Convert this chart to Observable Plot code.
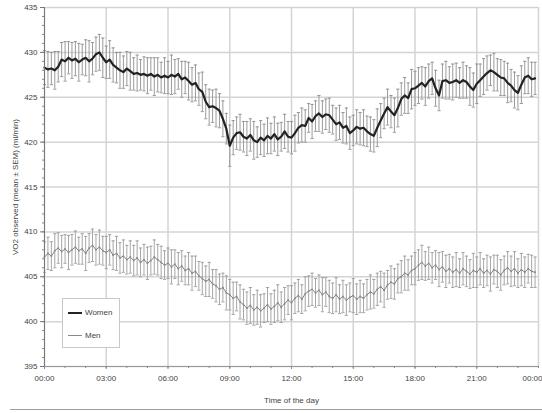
<!DOCTYPE html>
<html>
<head>
<meta charset="utf-8">
<script src="https://cdn.jsdelivr.net/npm/d3@7"></script>
<script src="https://cdn.jsdelivr.net/npm/@observablehq/plot@0.6"></script>
<style>
  body { margin: 0; background: #fff; font-family: "Liberation Sans", Arial, sans-serif; }
  #wrap { position: relative; width: 542px; height: 413px; }
  #legend { position: absolute; left: 62px; top: 298px; width: 56px; height: 48px; border: 1px solid #c8c8c8; background: #fff; font-size: 8px; color: #444; }
  .lg { position: absolute; left: 5px; display: flex; align-items: center; }
  .lg span.sw { display: inline-block; width: 14px; margin-right: 3px; }
  #rule { position: absolute; left: 10px; top: 409px; width: 532px; border-top: 1.5px solid #a0a0a0; }
</style>
</head>
<body>
<div id="wrap">
  <div id="chart"></div>
  <div id="legend">
    <div class="lg" style="top:9px"><span class="sw" style="border-top:2px solid #222"></span>Women</div>
    <div class="lg" style="top:32px"><span class="sw" style="border-top:1px solid #888"></span>Men</div>
  </div>
  <div id="rule"></div>
</div>
<script>
// time of day in minutes (10-minute steps)
const times = d3.range(0, 1440, 10);

const womenMean = [
428.3,428.1,428.2,428.0,428.4,429.2, 429.0,429.4,429.1,429.3,428.9,429.2,
429.4,429.0,429.3,429.8,430.0,429.4, 428.9,429.2,428.6,428.3,428.0,427.8,
428.2,427.9,427.6,427.7,427.5,427.6, 427.4,427.6,427.3,427.5,427.2,427.4,
427.2,427.5,427.3,427.6,427.0,427.2, 426.8,426.4,426.6,425.9,425.6,424.5,
423.9,424.0,423.8,423.5,422.6,421.5, 419.6,420.5,421.0,421.1,420.6,420.4,
420.8,420.2,420.0,420.5,420.2,420.7, 420.4,420.9,420.3,420.6,421.2,420.6,
420.5,421.0,421.6,421.9,421.8,422.7, 422.3,422.9,423.2,422.8,423.1,423.0,
422.5,422.0,422.2,421.6,421.8,421.0, 421.3,421.7,421.5,421.6,421.2,420.9,
420.7,421.6,422.4,423.2,423.9,423.4, 423.0,423.8,424.8,425.2,424.9,425.9,
426.0,426.3,426.6,426.2,426.8,427.1, 426.0,425.2,426.8,426.9,426.6,426.7,
426.9,426.6,426.9,426.7,426.2,425.8, 426.5,426.9,427.3,427.7,428.0,427.8,
427.5,427.2,427.1,426.6,426.3,425.8, 425.5,426.4,427.2,427.4,427.0,427.1
];
const womenSem = [
1.9,2.0,1.8,2.1,1.7,1.9,2.2,1.8,2.0,1.9,2.1,1.7,2.0,2.3,1.8,1.9,2.0,2.2,1.8,2.1,1.9,1.7,2.0,1.8,
1.9,2.1,1.8,2.0,1.7,1.9,2.0,1.8,2.1,1.9,1.7,2.0,1.8,2.2,1.9,1.7,2.0,1.8,2.1,1.9,2.0,1.8,2.2,1.9,
2.0,1.8,2.1,1.9,2.0,1.7,2.3,1.9,1.8,2.0,1.7,1.9,1.8,2.1,1.7,1.9,1.8,2.0,1.7,1.9,1.8,1.6,1.9,1.7,
1.8,2.0,1.7,1.9,1.8,1.6,1.9,1.7,2.0,1.8,1.7,1.9,1.6,1.8,1.9,1.7,2.0,1.8,1.7,1.9,1.8,2.0,1.7,1.9,
1.8,2.1,1.9,1.7,2.0,1.8,1.9,2.1,1.8,2.0,1.7,2.2,1.9,2.0,1.8,2.1,1.9,1.8,2.0,1.7,1.9,2.1,1.8,2.0,
1.9,1.7,2.0,1.8,2.1,1.9,2.2,1.8,2.0,1.9,1.7,2.1,1.8,2.0,1.9,2.2,1.8,2.0,1.9,2.1,1.8,2.0,1.9,1.8
];
const menMean = [
407.2,407.6,407.3,407.9,408.2,407.8, 408.1,407.7,408.0,408.3,407.9,408.1,
407.6,408.2,408.5,408.0,408.3,407.9, 407.7,408.0,407.4,407.6,407.1,407.3,
406.9,407.2,406.8,407.1,406.6,406.9, 406.5,406.8,407.2,406.9,406.6,406.3,
406.5,406.1,406.4,405.9,406.2,405.7, 405.9,405.4,405.6,405.1,404.8,404.5,
404.7,404.2,404.0,403.6,403.8,403.2, 403.0,402.6,402.8,402.2,401.9,401.5,
401.8,401.3,401.6,401.2,401.5,401.9, 401.4,401.7,402.1,401.6,402.0,402.4,
402.1,402.6,402.9,402.5,403.1,403.4, 403.6,403.2,403.5,403.0,403.3,402.8,
402.6,403.0,402.5,402.8,402.4,402.7, 402.9,402.5,402.8,402.6,403.0,403.3,
403.1,403.6,403.9,403.5,404.1,404.4, 404.2,404.8,405.0,405.4,405.2,405.7,
405.9,406.3,406.6,406.2,406.5,406.0, 406.3,405.8,406.1,405.6,405.9,405.5,
405.8,405.4,405.9,405.6,405.3,405.7, 405.5,405.9,405.4,405.7,405.3,405.8,
405.6,405.2,405.7,406.0,405.6,405.9, 405.4,405.8,405.5,405.9,405.6,405.5
];
const menSem = [
1.7,1.8,1.6,1.9,1.7,1.8,1.6,1.9,1.7,1.8,1.5,1.7,1.9,1.6,1.8,1.7,1.9,1.6,1.8,1.7,1.6,1.9,1.7,1.8,
1.6,1.8,1.7,1.9,1.6,1.7,1.8,1.6,1.9,1.7,1.8,1.6,1.7,1.9,1.6,1.8,1.7,1.6,1.8,1.9,1.7,1.6,1.8,1.7,
1.9,1.6,1.8,1.7,1.6,1.9,1.7,1.8,1.6,1.9,1.7,1.8,2.0,1.7,1.9,1.8,1.6,1.9,1.7,1.8,2.0,1.7,1.8,1.6,
1.9,1.7,1.8,1.6,1.9,1.7,1.8,1.6,1.7,1.9,1.6,1.8,1.7,1.9,1.6,1.8,1.7,1.6,1.9,1.7,1.8,1.6,1.7,1.9,
1.6,1.8,1.7,1.9,1.6,1.8,1.7,1.6,1.8,1.9,1.7,1.6,1.8,1.7,1.9,1.6,1.8,1.7,1.6,1.9,1.7,1.8,1.6,1.7,
1.9,1.6,1.8,1.7,1.6,1.9,1.7,1.8,1.6,1.7,1.9,1.6,1.8,1.7,1.6,1.8,1.7,1.9,1.6,1.8,1.7,1.6,1.8,1.7
];

const xTickValues = [0, 180, 360, 540, 720, 900, 1080, 1260, 1440];
const xTickLabels = ["00:00","03:00","06:00","09:00","12:00","15:00","18:00","21:00","00:00"];
const yTickValues = [395, 400, 405, 410, 415, 420, 425, 430, 435];

const women = times.map((t, i) => ({t, v: womenMean[i], e: womenSem[i]}));
const men = times.map((t, i) => ({t, v: menMean[i], e: menSem[i]}));

const hline = {
  draw(ctx, size) {
    const r = Math.sqrt(size / Math.PI);
    ctx.moveTo(-r, 0); ctx.lineTo(r, 0);
  }
};

function bars(data, color) {
  return [
    Plot.ruleX(data, {x: "t", y1: d => d.v - d.e, y2: d => d.v + d.e, stroke: color, strokeWidth: 0.9}),
    Plot.dot(data, {x: "t", y: d => d.v + d.e, symbol: hline, r: 1.6, stroke: color, strokeWidth: 0.9}),
    Plot.dot(data, {x: "t", y: d => d.v - d.e, symbol: hline, r: 1.6, stroke: color, strokeWidth: 0.9})
  ];
}

const fmt = d => xTickLabels[xTickValues.indexOf(d)];

const chart = Plot.plot({
  width: 542,
  height: 413,
  marginLeft: 44,
  marginRight: 4,
  marginTop: 7,
  marginBottom: 47,
  style: {fontFamily: "Liberation Sans, Arial, sans-serif", fontSize: "8px", color: "#444", background: "#fff"},
  x: {domain: [0, 1440]},
  y: {domain: [395, 435]},
  marks: [
    Plot.gridX(xTickValues, {stroke: "#d4d4d4", strokeOpacity: 1, strokeWidth: 1.5}),
    Plot.gridY(yTickValues, {stroke: "#d4d4d4", strokeOpacity: 1, strokeWidth: 1.5}),
    ...bars(men, "#9c9c9c"),
    Plot.line(men, {x: "t", y: "v", stroke: "#808080", strokeWidth: 1}),
    Plot.dot(men, {x: "t", y: "v", r: 0.9, fill: "#888", stroke: "none"}),
    ...bars(women, "#8e8e8e"),
    Plot.line(women, {x: "t", y: "v", stroke: "#222", strokeWidth: 2.2}),
    Plot.ruleX([0], {stroke: "#777", strokeWidth: 1}),
    Plot.ruleY([395], {stroke: "#999", strokeWidth: 1}),
    Plot.axisY(d3.range(395, 436, 1), {tickSize: 2, tickFormat: () => "", stroke: "#888", label: null}),
    Plot.axisX(d3.range(0, 1441, 60), {tickSize: 2, tickFormat: () => "", stroke: "#888", label: null}),
    Plot.axisY(yTickValues, {tickSize: 4, tickPadding: 3, stroke: "#777", fill: "#444",
      label: "VO2 observed (mean ± SEM) (ml/min)", labelAnchor: "center", labelArrow: false, labelOffset: 32}),
    Plot.axisX(xTickValues.slice(0, -1), {tickSize: 3, tickPadding: 6, stroke: "#888", fill: "#444",
      tickFormat: fmt,
      label: "Time of the day", labelAnchor: "center", labelArrow: false, labelOffset: 36}),
    Plot.axisX(xTickValues.slice(-1), {tickSize: 3, tickPadding: 6, stroke: "#888", fill: "#444",
      tickFormat: fmt, textAnchor: "end", dx: 4, label: null})
  ]
});
document.getElementById("chart").appendChild(chart);
</script>
</body>
</html>
